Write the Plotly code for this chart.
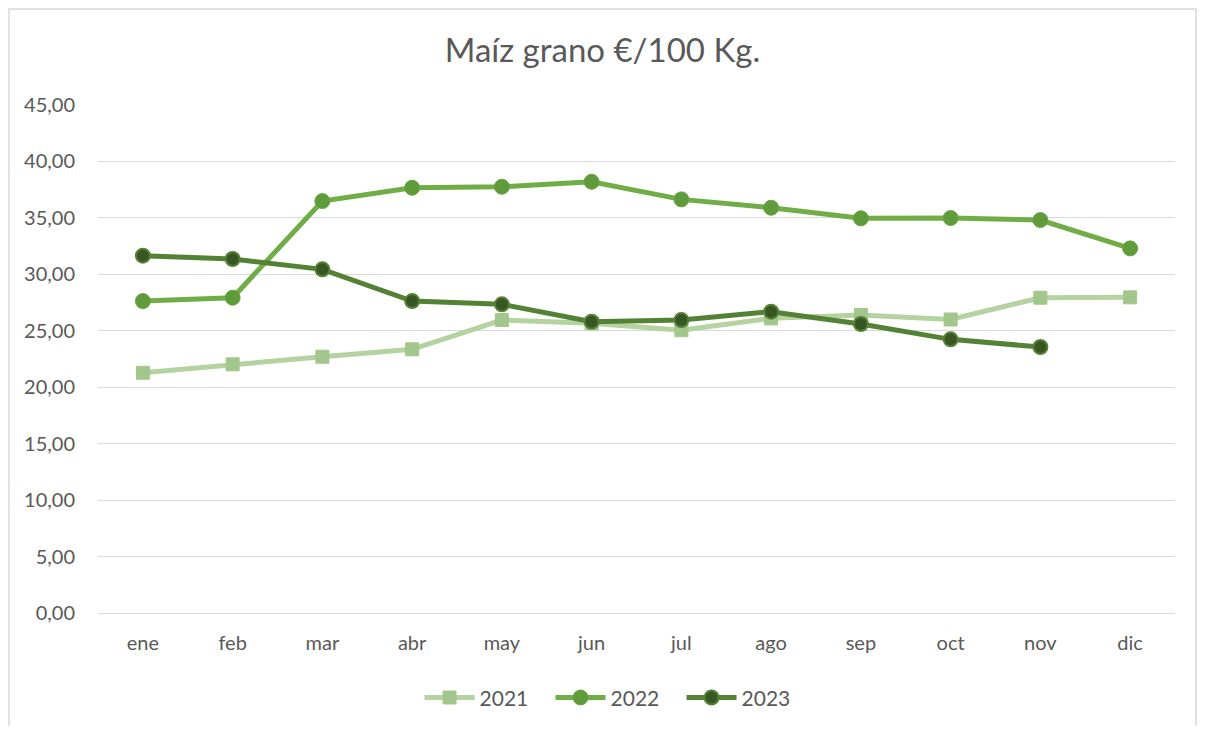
import plotly.graph_objects as go

# ==========================================================
# Data
# ==========================================================

months = ["ene", "feb", "mar", "abr", "may", "jun",
          "jul", "ago", "sep", "oct", "nov", "dic"]

y2021 = [21.28, 22.03, 22.70, 23.36, 25.95, 25.66,
         25.05, 26.10, 26.40, 26.00, 27.93, 27.96]

y2022 = [27.63, 27.93, 36.49, 37.67, 37.76, 38.20,
         36.64, 35.90, 34.96, 34.99, 34.81, 32.30]

y2023 = [31.65, 31.36, 30.44, 27.63, 27.34, 25.80,
         25.95, 26.69, 25.60, 24.24, 23.56]

TEXT = "#595959"
GRID = "#D9D9D9"
FONT = "Lato, Calibri, sans-serif"

# page has an 8px body margin, so the figure is drawn 16px smaller
W, H = 1189, 718

# ==========================================================
# Figure
# ==========================================================

fig = go.Figure()

fig.add_trace(
    go.Scatter(
        x=months,
        y=y2021,
        name="2021",
        mode="lines+markers",
        line=dict(color="#B4D3A0", width=5),
        marker=dict(symbol="square", size=13, color="#A2C68C",
                    line=dict(color="#A2C68C", width=1)),
    )
)

fig.add_trace(
    go.Scatter(
        x=months,
        y=y2022,
        name="2022",
        mode="lines+markers",
        line=dict(color="#70AD47", width=5),
        marker=dict(symbol="circle", size=15, color="#5F9A3B",
                    line=dict(color="#6AA443", width=1)),
    )
)

fig.add_trace(
    go.Scatter(
        x=months[:len(y2023)],
        y=y2023,
        name="2023",
        mode="lines+markers",
        line=dict(color="#548235", width=5),
        marker=dict(symbol="circle", size=14, color="#375623",
                    line=dict(color="#548235", width=2)),
    )
)

fig.update_layout(
    width=W,
    height=H,
    margin=dict(l=90, r=22, t=97, b=113, autoexpand=False),
    paper_bgcolor="white",
    plot_bgcolor="white",
    separators=",.",
    font=dict(family=FONT, color=TEXT, size=20),
    title=dict(
        text="Maíz grano €/100 Kg.",
        x=0.5,
        xanchor="center",
        y=1 - 42 / H,
        yanchor="middle",
        font=dict(family=FONT, size=33, color=TEXT),
    ),
    showlegend=True,
    legend=dict(
        orientation="h",
        x=0.481,
        xanchor="center",
        y=-0.167,
        yanchor="middle",
        font=dict(size=21, color=TEXT),
        traceorder="normal",
        itemwidth=50,
        entrywidth=66,
        entrywidthmode="pixels",
    ),
    xaxis=dict(
        type="category",
        categoryorder="array",
        categoryarray=months,
        range=[-0.5, len(months) - 0.5],
        automargin=False,
        showgrid=False,
        showline=True,
        linecolor=GRID,
        linewidth=1,
        ticks="",
        ticklabelstandoff=12,
    ),
    yaxis=dict(
        range=[0, 45],
        dtick=5,
        tickformat=".2f",
        automargin=False,
        showgrid=True,
        gridcolor=GRID,
        gridwidth=1,
        zeroline=False,
        showline=False,
        ticks="",
        ticklabelstandoff=22,
    ),
)

# outer chart border, along the figure edges
fig.add_shape(
    type="rect",
    xref="paper",
    yref="paper",
    x0=(1 - 90) / 1077,
    x1=(1188 - 90) / 1077,
    y0=(605 - 740) / 508,
    y1=(605 - 1) / 508,
    line=dict(color=GRID, width=1.5),
    layer="below",
)

fig.write_html("out.html")
